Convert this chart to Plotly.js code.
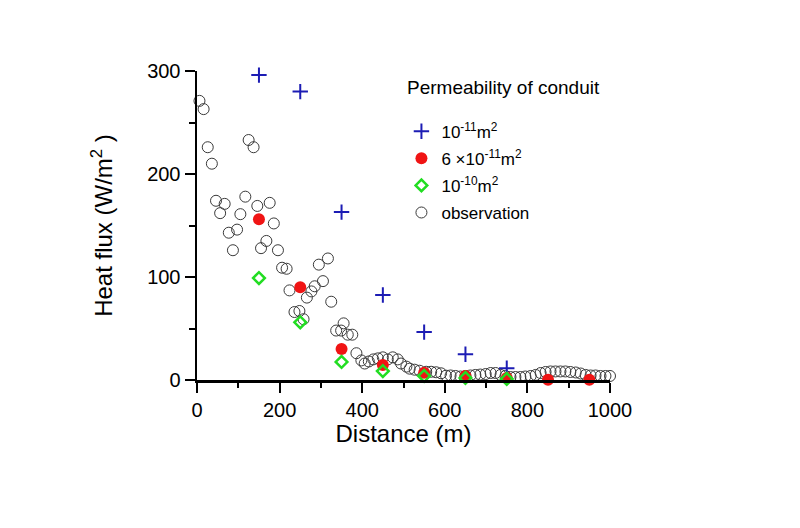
<!DOCTYPE html>
<html>
<head>
<meta charset="utf-8">
<script src="https://cdn.plot.ly/plotly-3.0.1.min.js"></script>
<style>html,body{margin:0;padding:0;background:#fff;}#chart{width:800px;height:528px;}</style>
</head>
<body>
<div id="chart"></div>
<script>
// Model results (heat flux, W/m^2) at distance (m)
const modelX1 = [150, 250, 350, 450, 550, 650, 750];
const modelY1 = [296, 280, 163, 82.5, 46.5, 25, 11.5];      // 10^-11 m^2

const modelX2 = [150, 250, 350, 450, 550, 650, 750, 850, 950];
const modelY2 = [156, 90, 30, 14.5, 7, 4, 2, 0.3, 0.2];      // 6x10^-11 m^2

const modelX3 = [150, 250, 350, 450, 550, 650, 750];
const modelY3 = [99, 56, 17.5, 8.7, 3.9, 2, 1];              // 10^-10 m^2

// Observations
const obsX = [6,16,26,36,46,56,67,77,87,97,105,117,125,137,146,155,168,176,186,196,
  206,217,224,236,248,258,266,277,285,295,305,317,325,337,349,355,365,376,386,398,
  406,416,427,438,450,462,474,486,494,507,515,527,539,555,567,579,591,603,
  614,626,638,650,662,674,686,699,711,723,735,747,759,771,783,795,808,820,832,844,
  856,868,880,892,904,917,929,941,953,965,977,989,1000];
const obsY = [271,263,226,210,174,162,171,143,126,146,161,178,233,226,169,128,135,172,152,126,
  109,108,87,66,67,59,80,86,91,112,96,118,76,48,48,55,44,44,26,19,
  16,18,20,21,22,20,22,20,16,13,11,10,9,8,8,7.5,6.5,4.2,
  4.4,3.9,3.4,3.9,4.4,4.9,5.3,5.8,6.8,6.8,4.9,3.9,2.9,2.9,2.9,3.4,3.9,4.9,6.8,7.8,
  8.3,8.3,8.3,8.3,7.8,7.3,6.3,4.9,4.4,4.4,3.9,3.9,3.9];

const legendNames = ["10<sup>-11</sup>m<sup>2</sup>", "6 \u00d710<sup>-11</sup>m<sup>2</sup>",
  "10<sup>-10</sup>m<sup>2</sup>", "observation"];

const FONT = "Liberation Sans, Arial, Helvetica, sans-serif";

const traces = [
  {x: obsX, y: obsY, mode: "markers", type: "scatter", name: legendNames[3],
   legendrank: 4, legendgroup: "d", cliponaxis: false,
   marker: {symbol: "circle-open", size: 11, color: "#3a3a3a", line: {width: 1, color: "#3a3a3a"}}},
  {x: modelX1, y: modelY1, mode: "markers", type: "scatter", name: legendNames[0],
   legendrank: 1, legendgroup: "a", cliponaxis: false,
   marker: {symbol: "cross-thin-open", size: 11, color: "#1c1cb4", line: {width: 2, color: "#1c1cb4"}}},
  {x: modelX2, y: modelY2, mode: "markers", type: "scatter", name: legendNames[1],
   legendrank: 2, legendgroup: "b", cliponaxis: false,
   marker: {symbol: "circle", size: 12, color: "#f01414"}},
  {x: modelX3, y: modelY3, mode: "markers", type: "scatter", name: legendNames[2],
   legendrank: 3, legendgroup: "c", cliponaxis: false,
   marker: {symbol: "diamond-open", size: 9, color: "#22dd22", line: {width: 2.5, color: "#22dd22"}}}
];

const layout = {
  width: 800, height: 528,
  paper_bgcolor: "#ffffff", plot_bgcolor: "#ffffff",
  margin: {l: 197, r: 190, t: 71, b: 148},
  font: {family: FONT, color: "#000"},
  showlegend: true,
  legend: {x: 0.495, y: 0.862, xanchor: "left", yanchor: "top",
    font: {family: FONT, size: 17, color: "#000"}, bgcolor: "rgba(0,0,0,0)",
    tracegroupgap: 2, traceorder: "grouped"},
  xaxis: {range: [0, 1000], showgrid: false, zeroline: false,
    showline: true, linecolor: "#000", linewidth: 2.5,
    ticks: "outside", ticklen: 10, tickwidth: 2, tickcolor: "#000", dtick: 200, tick0: 0,
    minor: {ticks: "outside", dtick: 100, ticklen: 5, tickwidth: 2, tickcolor: "#000"},
    tickfont: {family: FONT, size: 20, color: "#000"},
    title: {text: "Distance (m)", font: {family: FONT, size: 24, color: "#000"}, standoff: 6}},
  yaxis: {range: [0, 300], showgrid: false, zeroline: false,
    showline: true, linecolor: "#000", linewidth: 2.5,
    ticks: "outside", ticklen: 10, tickwidth: 2, tickcolor: "#000", dtick: 100, tick0: 0,
    minor: {ticks: "outside", dtick: 50, ticklen: 6, tickwidth: 2, tickcolor: "#000"},
    tickfont: {family: FONT, size: 20, color: "#000"},
    title: {text: "Heat flux (W/m<sup>2</sup> )", font: {family: FONT, size: 24, color: "#000"}, standoff: 28}},
  annotations: [{text: "Permeability of conduit", xref: "paper", yref: "paper",
    x: 0.741, y: 0.945, xanchor: "center", yanchor: "middle", showarrow: false,
    font: {family: FONT, size: 19, color: "#000"}}]
};

Plotly.newPlot("chart", traces, layout, {displayModeBar: false, staticPlot: true});
</script>
</body>
</html>
